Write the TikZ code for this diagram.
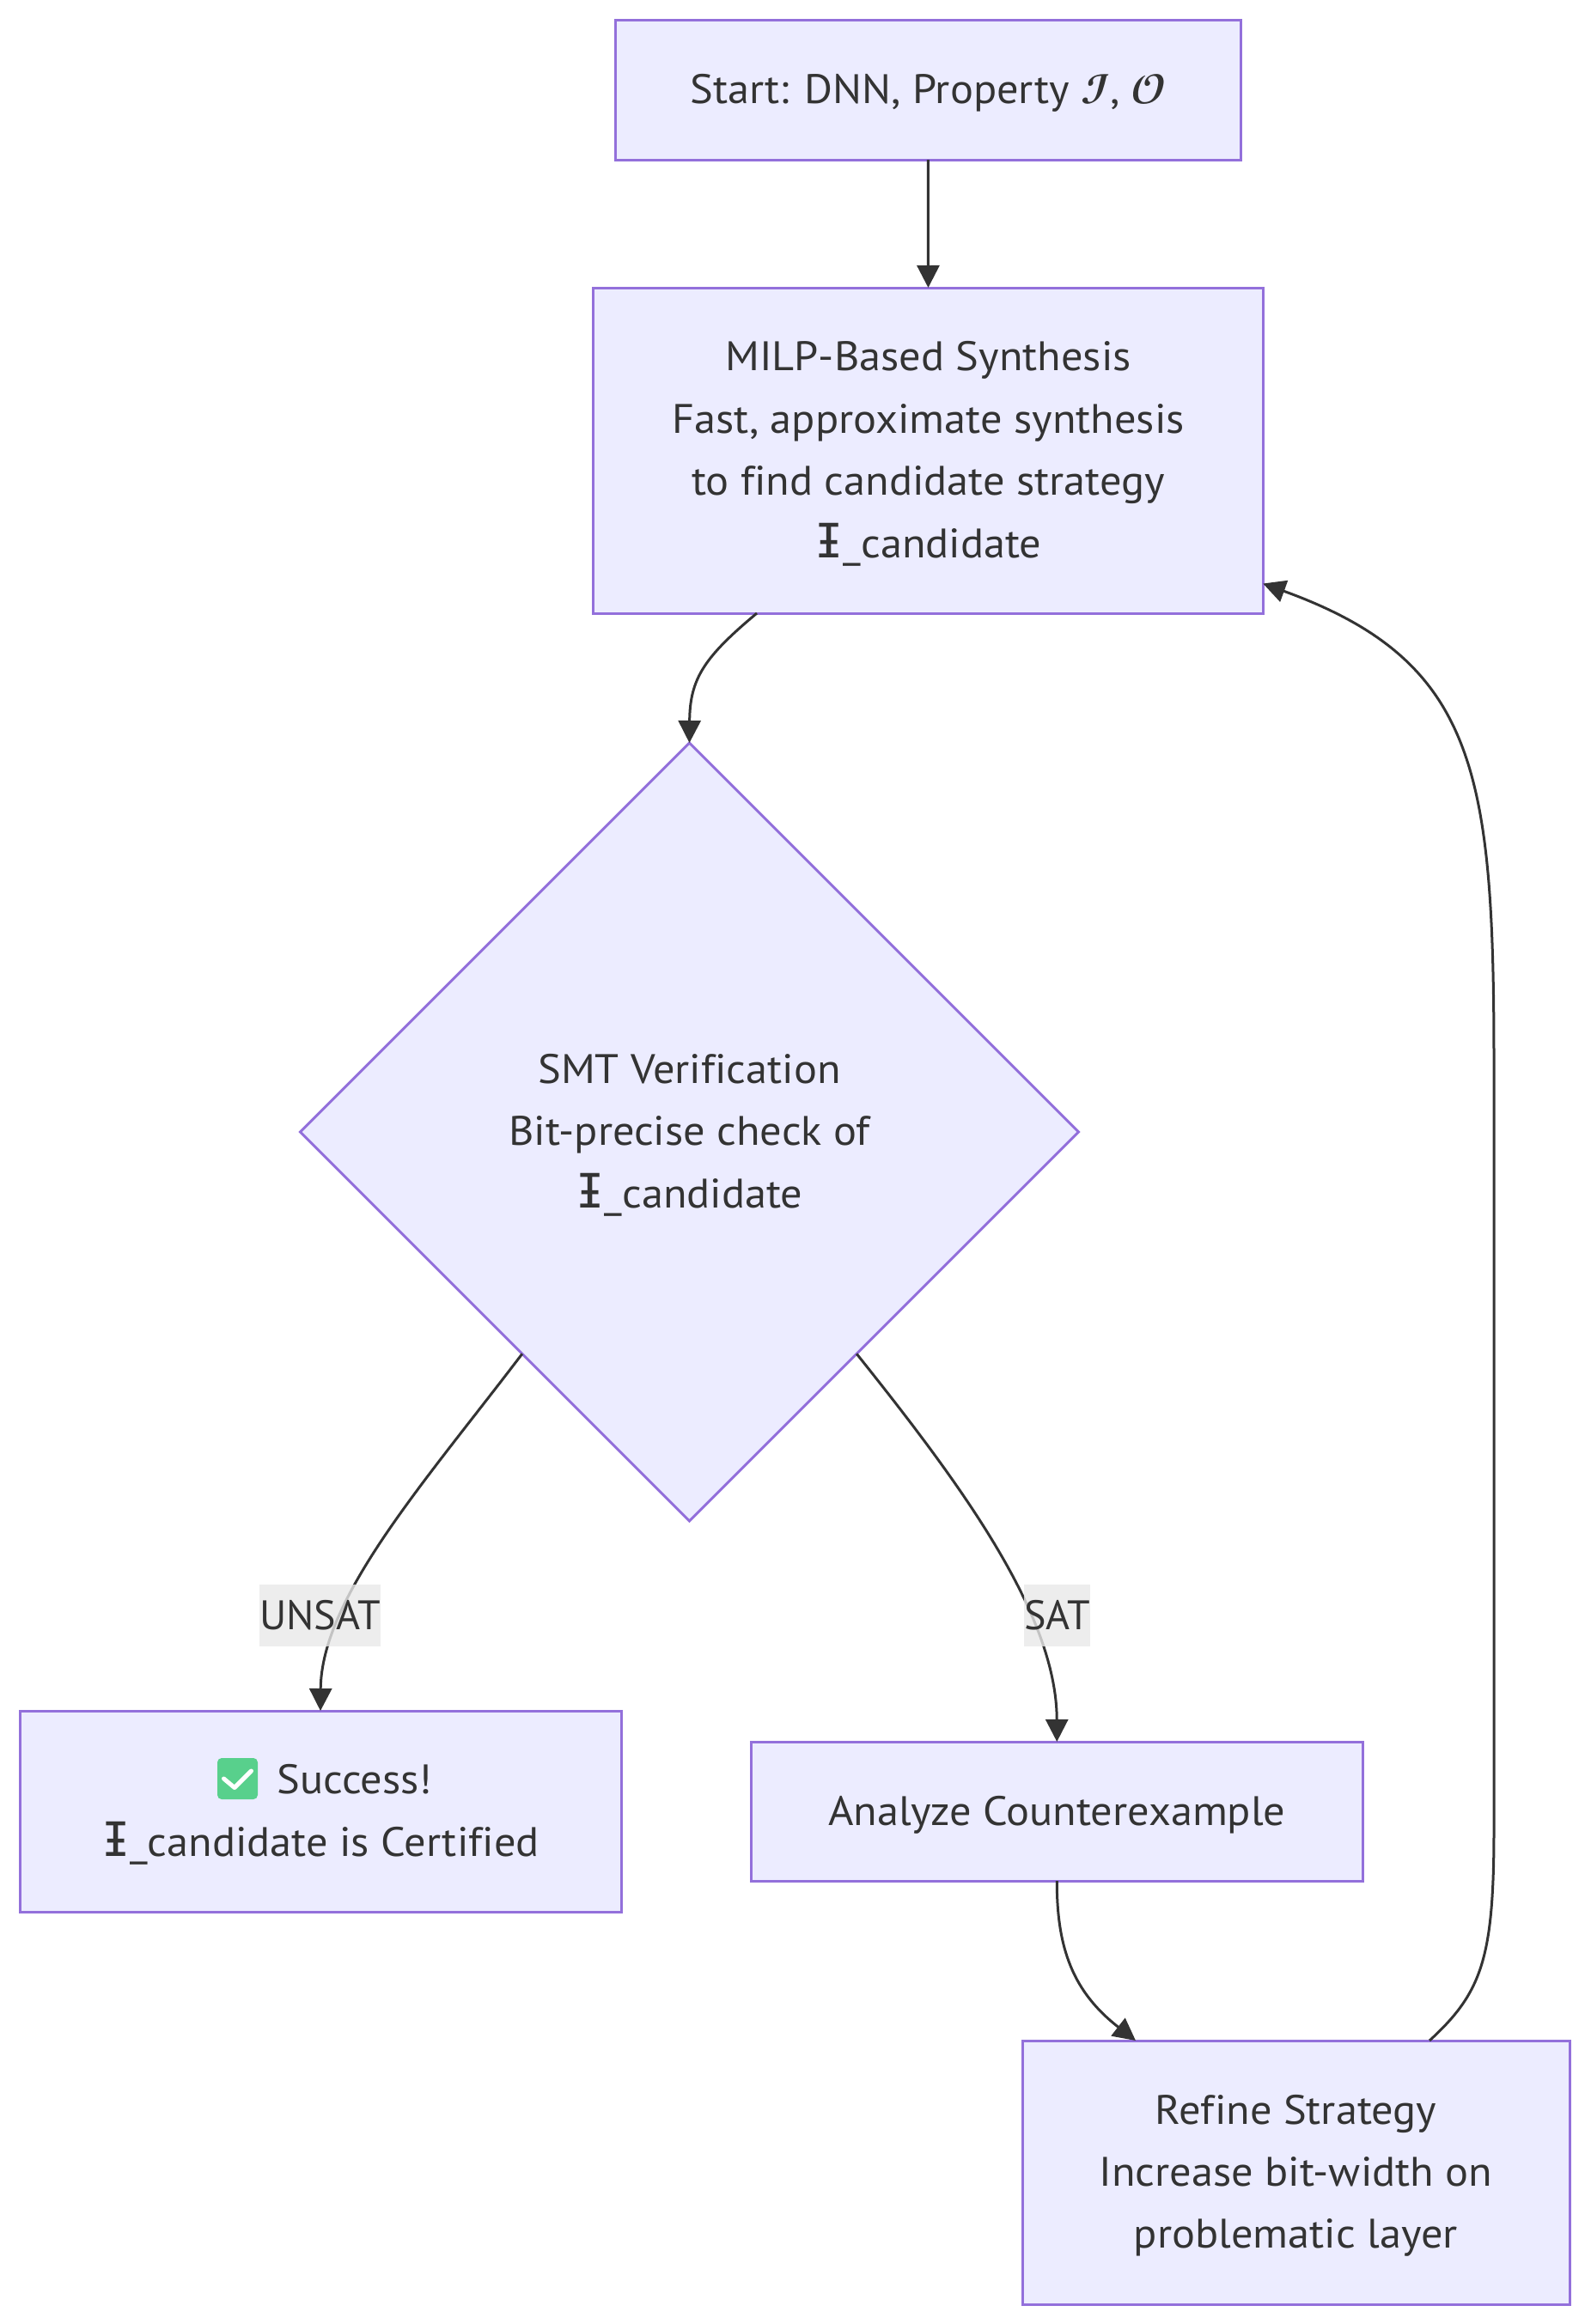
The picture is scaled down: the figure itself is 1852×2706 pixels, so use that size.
\documentclass[tikz,border=0pt]{standalone}
\usepackage{fontspec}
\setmainfont[Ligatures=NoCommon,FakeStretch=1.05]{PT Sans}
\newfontfamily\edgefont{PT Sans}
\newfontfamily\glyphfont[Scale=1.15]{DejaVu Sans Mono}
\newfontfamily\scriptglyph{Latin Modern Math}
\usetikzlibrary{arrows.meta,shapes.geometric,calc}
\definecolor{nodefill}{HTML}{ECECFF}
\definecolor{nodeline}{HTML}{9370DB}
\definecolor{inkgrey}{HTML}{333333}
\definecolor{labelfill}{HTML}{E8E8E8}
\definecolor{tickgreen}{HTML}{58D08C}
\newcommand{\strat}{{\glyphfont Ɨ}}
\newcommand{\flowtext}[1]{\raisebox{-1.5pt}[\height][\depth]{\begin{tabular}{@{}c@{}}#1\end{tabular}}}
\tikzset{
         flowbox/.style=
          {
           draw=nodeline,
           fill=nodefill,
           line width=3pt,
           text=inkgrey,
           inner sep=0pt,
           outer sep=0pt,
           font=\fontsize{48}{72.4}\selectfont
          },
         flowrect/.style args={#1 by #2}{flowbox,rectangle,minimum width=#1,minimum height=#2},
         flowarrow/.style={draw=inkgrey,line width=3pt,-{Triangle[length=26pt,width=26pt]}},
         edgelabel/.style={fill=labelfill,fill opacity=0.8,text opacity=1,text=inkgrey,inner sep=0pt,outer sep=0pt,minimum height=72pt,font=\edgefont\fontsize{48}{58}\selectfont}
        }
\begin{document}
\begin{tikzpicture}[x=1pt,y=-1pt]
\useasboundingbox(0,0)rectangle(1852,2706);

\node[flowrect=728.5pt by 163pt](start)at(1080.3,104.5){\flowtext{Start: DNN, Property {\scriptglyph\symbol{"1D4D8}}, {\scriptglyph\symbol{"1D4DE}}}};
\node[flowrect=779.5pt by 379pt](milp)at(1080.5,524.5){\flowtext{MILP-Based Synthesis\\Fast, approximate synthesis\\to find candidate strategy\\\strat\_candidate}};
\node[flowbox,diamond,aspect=1,minimum width=906pt,minimum height=906pt](smt)at(802.5,1318){\flowtext{SMT Verification\\Bit-precise check of\\\strat\_candidate}};
\node[flowrect=700pt by 234pt](success)at(373,2109){\flowtext{\hspace*{80pt}Success!\\\strat\_candidate is Certified}};
\node[flowrect=712.5pt by 162pt](analyze)at(1230.3,2109){\flowtext{Analyze Counterexample}};
\node[flowrect=637pt by 307pt](refine)at(1508.5,2529.5){\flowtext{Refine Strategy\\Increase bit-width on\\problematic layer}};

% check mark emoji
\node[fill=tickgreen,rounded corners=5pt,minimum width=47pt,minimum height=48pt,inner sep=0pt](tick)at(276.5,2071){};
\draw[white,line width=5pt,line cap=round,line join=round]($(tick)+(-16,0)$)--($(tick)+(-3.5,10.5)$)--($(tick)+(16,-9)$);

\draw[flowarrow](start.south)--(milp.north);
\draw[flowarrow]($(milp.south)+(-199.5,0)$)..controls(820,765)and(803,790)..(smt.north);
\draw[flowarrow](smt.-127)..controls(495,1725)and(374,1860)..(success.north);
\draw[flowarrow](smt.-53)..controls(1120,1730)and(1230,1880)..(analyze.north);
\draw[flowarrow](analyze.south)..controls(1230,2270)and(1250,2320)..($(refine.north)+(-186.5,0)$);
\draw[flowarrow]($(refine.north)+(155.5,0)$)..controls(1725,2320)and(1739,2280)..(1739,2130)--(1739,1240)..controls(1739,900)and(1720,770)..($(milp.east)+(0,155)$);

\node[edgelabel,minimum width=135pt](unsat)at(372.5,1881){UNSAT};
\node[edgelabel,minimum width=75pt](sat)at(1230.5,1881){SAT};

\end{tikzpicture}
\end{document}
